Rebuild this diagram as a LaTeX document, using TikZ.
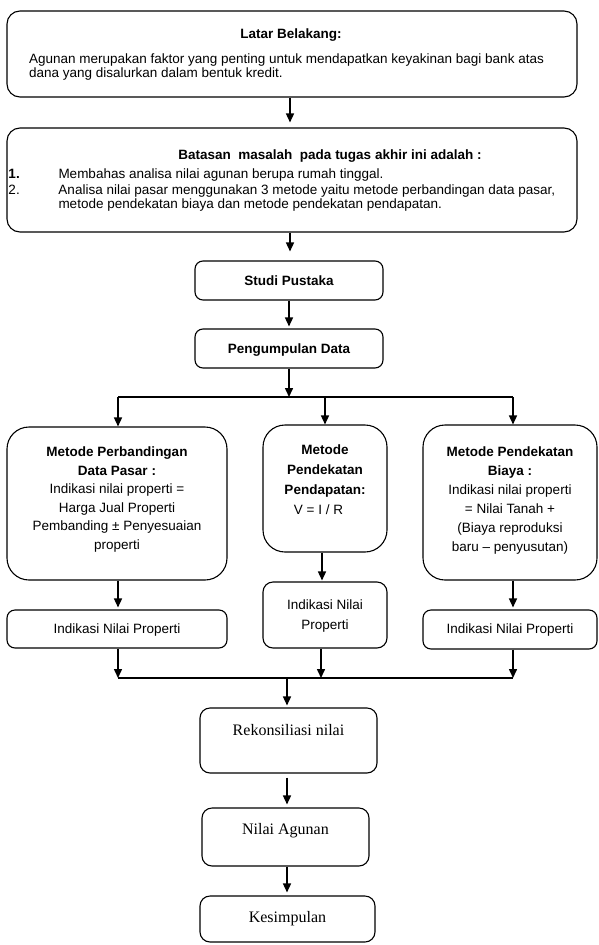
\documentclass[tikz,border=0pt]{standalone}
\usepackage{fontspec}
\setmainfont{Liberation Sans}
\newfontfamily\serifrm{Liberation Serif}
\usetikzlibrary{arrows.meta}
% centred box text: width, height, first baseline from top, line spacing, content
\newcommand{\bxt}[5]{\parbox[c][#2][t]{#1}{\centering\fontsize{13.5pt}{#4}\selectfont\rule{0pt}{#3}#5\par}}
% left box text: width, height, first baseline, left skip, content
\newcommand{\bxl}[5]{\parbox[c][#2][t]{#1}{\raggedright\leftskip=#4\relax\fontsize{13.5pt}{14pt}\selectfont\rule{0pt}{#3}#5\par}}
\begin{document}
\begin{tikzpicture}[x=1pt,y=-1pt,
  rbox/.style={draw, line width=1.1pt, rounded corners=#1, inner sep=0pt},
  rbox/.default=8pt,
  arr/.style={line width=1.5pt, -{Triangle[length=9pt,width=8pt]}},
  ln/.style={line width=1.5pt}]
\useasboundingbox (0,0) rectangle (598,945);

% top boxes
\node[rbox=13pt] (lb) at (292,54) {\bxl{570pt}{86pt}{27pt}{22pt}{%
  \makebox[524pt][c]{\bfseries Latar Belakang:}\\[11.5pt]
  Agunan merupakan faktor yang penting untuk mendapatkan keyakinan bagi bank atas\\
  dana yang disalurkan dalam bentuk kredit.}};

\node[rbox=13pt] (bt) at (292,180) {\bxl{570pt}{104pt}{31pt}{1.5pt}{%
  \makebox[566pt][c]{\hspace*{77pt}\bfseries Batasan\ \ masalah\ \ pada tugas akhir ini adalah :}\\[5pt]
  \makebox[50pt][l]{\bfseries 1.}Membahas analisa nilai agunan berupa rumah tinggal.\\[2.5pt]
  \makebox[50pt][l]{2.}Analisa nilai pasar menggunakan 3 metode yaitu metode perbandingan data pasar,\\
  \hspace*{50pt}metode pendekatan biaya dan metode pendekatan pendapatan.}};

\node[rbox=8pt] (sp) at (289,280.5) {\bxt{188pt}{39pt}{24.5pt}{13.5pt}{\bfseries Studi Pustaka}};
\node[rbox=8pt] (pd) at (289,348.5) {\bxt{188pt}{39pt}{24pt}{13.5pt}{\bfseries Pengumpulan Data}};

% three methods
\node[rbox=22pt] (ma) at (117,503.5) {\bxt{220pt}{153pt}{29.5pt}{18.6pt}{%
  \bfseries Metode Perbandingan\\ Data Pasar :\\ \mdseries Indikasi nilai properti =\\
  Harga Jual Properti\\ Pembanding ± Penyesuaian\\ properti}};
\node[rbox=22pt] (mb) at (325,488.5) {\bxt{124pt}{127pt}{29.5pt}{20pt}{%
  \bfseries Metode\\ Pendekatan\\ Pendapatan:\\ \mdseries\hspace*{-13pt}V = I / R}};
\node[rbox=22pt] (mc) at (510,502.5) {\bxt{174pt}{155pt}{31.5pt}{19pt}{%
  \bfseries Metode Pendekatan\\ Biaya :\\ \mdseries Indikasi nilai properti\\
  = Nilai Tanah +\\ (Biaya reproduksi\\ baru – penyusutan)}};

% results
\node[rbox=8pt] (ia) at (117,629) {\bxt{220pt}{38pt}{23.5pt}{18pt}{Indikasi Nilai Properti}};
\node[rbox=10pt] (ib) at (325,615) {\bxt{124pt}{66pt}{27.5pt}{20pt}{Indikasi Nilai\\ Properti}};
\node[rbox=8pt] (ic) at (510,629.5) {\bxt{174pt}{39pt}{23.5pt}{18pt}{Indikasi Nilai Properti}};

% bottom chain
\node[rbox=10pt] (rk) at (288.5,740.5) {\bxt{177pt}{65pt}{27pt}{18pt}{\serifrm\fontsize{16pt}{18pt}\selectfont Rekonsiliasi nilai}};
\node[rbox=10pt] (na) at (285.5,837) {\bxt{167pt}{58pt}{26pt}{18pt}{\serifrm\fontsize{16pt}{18pt}\selectfont Nilai Agunan}};
\node[rbox=10pt] (ks) at (287.5,919) {\bxt{175pt}{46pt}{26pt}{18pt}{\serifrm\fontsize{16pt}{18pt}\selectfont Kesimpulan}};

% junction coordinates
\coordinate (j1) at (289,397);
\coordinate (jA) at (118,397);
\coordinate (jB) at (325,397);
\coordinate (jC) at (513,397);
\coordinate (k1) at (287,678);
\coordinate (kA) at (118,678);
\coordinate (kB) at (321,678);
\coordinate (kC) at (513,678);

% connectors
\draw[arr, shorten >=5pt] ([xshift=-2pt]lb.south) -- ([xshift=-2pt]bt.north);
\draw[arr, shorten >=9pt] ([xshift=-2pt]bt.south) -- ([xshift=-2pt]bt.south |- sp.north);
\draw[arr, shorten >=2pt] (sp.south) -- (pd.north);
\draw[arr] (pd.south) -- (j1);
\draw[ln] (jA) -- (jC);
\draw[arr] (jA) -- (jA |- ma.north);
\draw[arr] (jB) -- (mb.north);
\draw[arr] (jC) -- (jC |- mc.north);
\draw[arr, shorten >=2pt] (ma.south -| jA) -- (ia.north -| jA);
\draw[arr, shorten >=1pt] ([xshift=-3pt]mb.south) -- ([xshift=-3pt]ib.north);
\draw[arr, shorten >=2pt] (mc.south -| jC) -- (ic.north -| jC);
\draw[arr] (ia.south -| kA) -- (kA);
\draw[arr] (ib.south -| kB) -- (kB);
\draw[arr] (ic.south -| kC) -- (kC);
\draw[ln] (kA) -- (kC);
\draw[arr, shorten >=2pt] (k1) -- (k1 |- rk.north);
\draw[arr, shorten <=4pt, shorten >=3pt] (rk.south -| k1) -- (na.north -| k1);
\draw[arr, shorten >=3pt] (na.south -| k1) -- (ks.north -| k1);
\end{tikzpicture}
\end{document}
